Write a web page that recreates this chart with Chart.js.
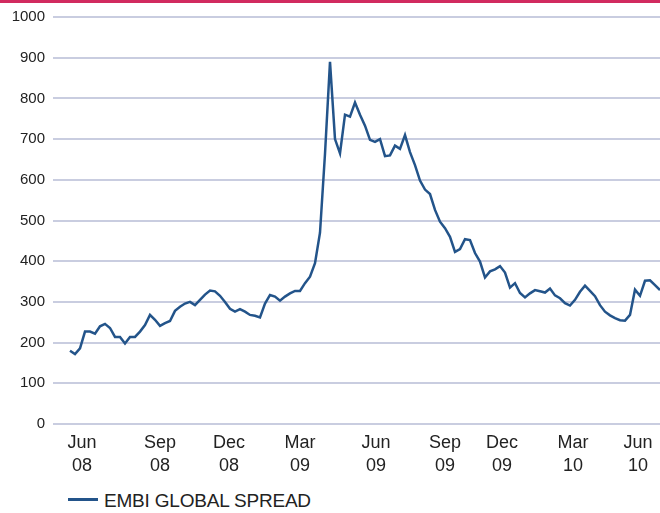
<!DOCTYPE html>
<html>
<head>
<meta charset="utf-8">
<script src="https://cdn.jsdelivr.net/npm/chart.js@4.4.1/dist/chart.umd.min.js"></script>
<style>
  html, body { margin: 0; padding: 0; background: #fff; }
  #wrap { position: relative; width: 660px; height: 513px; overflow: hidden; }
  #chartBox { position: absolute; left: 0; top: 0; width: 660px; height: 482px; }
  #legend { position: absolute; left: 68px; top: 490px; font: 19px "Liberation Sans", Arial, sans-serif; color: #222; letter-spacing: -0.2px; white-space: nowrap; }
  #legend .swatch { display: inline-block; width: 30px; height: 3px; background: #23548a; vertical-align: middle; margin-right: 6px; position: relative; top: -2px; }
</style>
</head>
<body>
<div id="wrap">
  <div id="chartBox"><canvas id="spreadChart"></canvas></div>
  <div id="legend"></div>
</div>
<script>
// EMBI global spread (bp), one reading per step along the x axis
const spreadValues = [
  180, 172, 186, 227, 227, 222, 240, 246, 236, 214,
  214, 198, 214, 214, 227, 243, 268, 256, 241, 248,
  253, 278, 288, 296, 300, 292, 305, 318, 328, 326,
  315, 300, 283, 276, 282, 276, 268, 266, 262, 296,
  317, 313, 303, 313, 321, 327, 327, 346, 362, 395,
  470, 664, 890, 700, 665, 760, 755, 790, 760, 733,
  698, 693, 700, 658, 660, 684, 676, 710, 668, 636,
  598, 576, 565, 526, 497, 481, 460, 423, 430, 454,
  452, 420, 399, 360, 375, 380, 388, 372, 335, 346,
  322, 311, 321, 329, 326, 323, 333, 316, 309, 297,
  291, 305, 325, 340, 327, 314, 292, 276, 267, 260,
  255, 254, 268, 330, 315, 352, 353, 341, 329
];
const seriesLabel = 'EMBI GLOBAL SPREAD';

// where the month labels sit, in the same steps as the data
const tickSteps = [2.4, 18, 31.8, 46, 61.2, 75, 86.4, 100.6, 113.6];
const tickLabels = [
  ['Jun', '08'], ['Sep', '08'], ['Dec', '08'], ['Mar', '09'], ['Jun', '09'],
  ['Sep', '09'], ['Dec', '09'], ['Mar', '10'], ['Jun', '10']
];
const yMin = 0, yMax = 1000, yStep = 100;

const lineColor = '#23548a';
const gridColor = '#c9cde0';
const textFont = '"Liberation Sans", Arial, sans-serif';

const topBar = {
  id: 'topBar',
  beforeDraw(chart) {
    const ctx = chart.ctx;
    ctx.save();
    ctx.fillStyle = '#d12a5f';
    ctx.fillRect(0, 0, chart.width, 3);
    ctx.restore();
  }
};

const ctx = document.getElementById('spreadChart');
const spreadChart = new Chart(ctx, {
  type: 'line',
  data: {
    datasets: [{
      label: seriesLabel,
      data: spreadValues.map((v, i) => ({ x: i, y: v })),
      borderColor: lineColor,
      backgroundColor: lineColor,
      borderWidth: 2.5,
      pointRadius: 0,
      tension: 0
    }]
  },
  options: {
    responsive: true,
    maintainAspectRatio: false,
    animation: false,
    layout: { padding: { top: 17, right: 0, left: 0, bottom: 0 } },
    plugins: {
      legend: { display: false },
      tooltip: { enabled: false }
    },
    scales: {
      x: {
        type: 'linear',
        min: -3.4,
        max: spreadValues.length - 1,
        grid: { display: false },
        border: { display: false },
        afterBuildTicks: (scale) => {
          scale.ticks = tickSteps.map(v => ({ value: v }));
        },
        afterFit: (scale) => { scale.height = 58; },
        ticks: {
          autoSkip: false,
          maxRotation: 0,
          padding: 0,
          color: '#222',
          font: { family: textFont, size: 18, lineHeight: 1.25 },
          callback: (value, index) => tickLabels[index]
        }
      },
      y: {
        min: yMin,
        max: yMax,
        border: { display: false },
        grid: { color: gridColor, lineWidth: 2, drawTicks: false },
        afterFit: (scale) => { scale.width = 53; },
        ticks: {
          stepSize: yStep,
          padding: 8,
          color: '#222',
          font: { family: textFont, size: 15 },
          callback: (value) => String(value)
        }
      }
    }
  },
  plugins: [topBar]
});

// legend below the chart, from the dataset
document.getElementById('legend').innerHTML =
  '<span class="swatch"></span>' + spreadChart.data.datasets[0].label;
</script>
</body>
</html>
